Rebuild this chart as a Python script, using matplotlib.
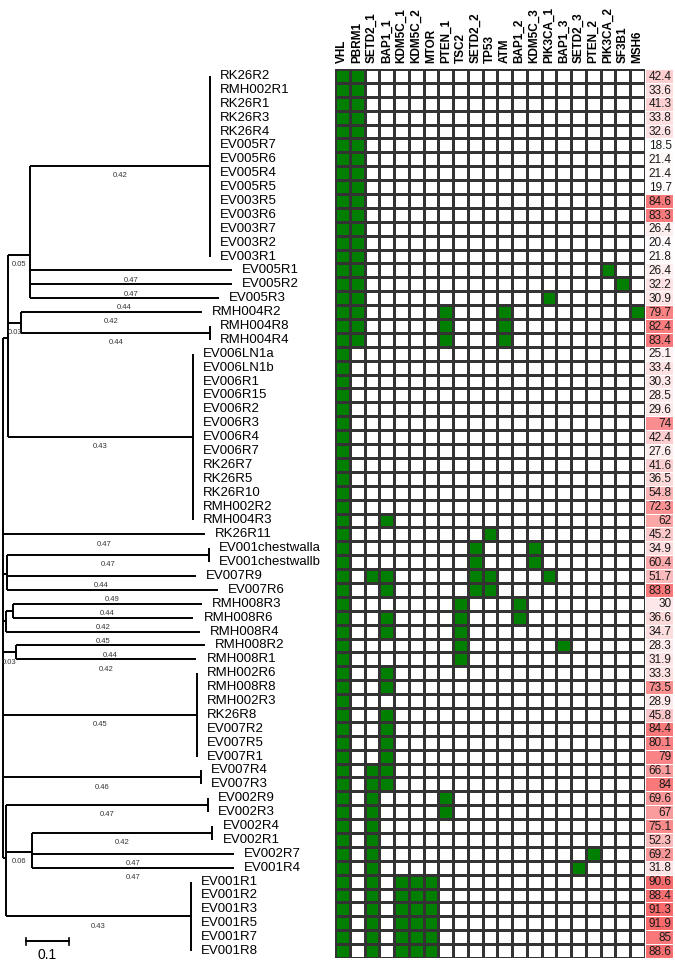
import numpy as np
import matplotlib.pyplot as plt
from matplotlib.colors import ListedColormap, LinearSegmentedColormap
from matplotlib import font_manager

plt.rcParams['font.family'] = ['Liberation Sans', 'DejaVu Sans']

# gene columns of the mutation grid
genes = ['VHL', 'PBRM1', 'SETD2_1', 'BAP1_1', 'KDM5C_1', 'KDM5C_2', 'MTOR',
         'PTEN_1', 'TSC2', 'SETD2_2', 'TP53', 'ATM', 'BAP1_2', 'KDM5C_3',
         'PIK3CA_1', 'BAP1_3', 'SETD2_3', 'PTEN_2', 'PIK3CA_2', 'SF3B1', 'MSH6']

# samples in tree order (top to bottom)
samples = ['RK26R2', 'RMH002R1', 'RK26R1', 'RK26R3', 'RK26R4', 'EV005R7', 'EV005R6',
           'EV005R4', 'EV005R5', 'EV003R5', 'EV003R6', 'EV003R7', 'EV003R2', 'EV003R1',
           'EV005R1', 'EV005R2', 'EV005R3', 'RMH004R2', 'RMH004R8', 'RMH004R4',
           'EV006LN1a', 'EV006LN1b', 'EV006R1', 'EV006R15', 'EV006R2', 'EV006R3',
           'EV006R4', 'EV006R7', 'RK26R7', 'RK26R5', 'RK26R10', 'RMH002R2', 'RMH004R3',
           'RK26R11', 'EV001chestwalla', 'EV001chestwallb', 'EV007R9', 'EV007R6',
           'RMH008R3', 'RMH008R6', 'RMH008R4', 'RMH008R2', 'RMH008R1', 'RMH002R6',
           'RMH008R8', 'RMH002R3', 'RK26R8', 'EV007R2', 'EV007R5', 'EV007R1',
           'EV007R4', 'EV007R3', 'EV002R9', 'EV002R3', 'EV002R4', 'EV002R1',
           'EV002R7', 'EV001R4', 'EV001R1', 'EV001R2', 'EV001R3', 'EV001R5',
           'EV001R7', 'EV001R8']

# value column (purity)
purity = [42.4, 33.6, 41.3, 33.8, 32.6, 18.5, 21.4, 21.4, 19.7, 84.6,
          83.3, 26.4, 20.4, 21.8, 26.4, 32.2, 30.9, 79.7, 82.4, 83.4,
          25.1, 33.4, 30.3, 28.5, 29.6, 74, 42.4, 27.6, 41.6, 36.5,
          54.8, 72.3, 62, 45.2, 34.9, 60.4, 51.7, 83.8, 30, 36.6,
          34.7, 28.3, 31.9, 33.3, 73.5, 28.9, 45.8, 84.4, 80.1, 79,
          66.1, 84, 69.6, 67, 75.1, 52.3, 69.2, 31.8, 90.6, 88.4,
          91.3, 91.9, 85, 88.6]

# extra mutated genes per sample (besides VHL which every sample has)
vp = ['PBRM1']
extra = {
    'EV005R1': vp + ['PIK3CA_2'], 'EV005R2': vp + ['SF3B1'], 'EV005R3': vp + ['PIK3CA_1'],
    'RMH004R2': vp + ['PTEN_1', 'ATM', 'MSH6'], 'RMH004R8': vp + ['PTEN_1', 'ATM'],
    'RMH004R4': vp + ['PTEN_1', 'ATM'],
    'RMH004R3': ['BAP1_1'], 'RK26R11': ['TP53'],
    'EV001chestwalla': ['SETD2_2', 'KDM5C_3'], 'EV001chestwallb': ['SETD2_2', 'KDM5C_3'],
    'EV007R9': ['SETD2_1', 'BAP1_1', 'SETD2_2', 'TP53', 'PIK3CA_1'],
    'EV007R6': ['BAP1_1', 'SETD2_2', 'TP53'],
    'RMH008R3': ['TSC2', 'BAP1_2'], 'RMH008R6': ['BAP1_1', 'TSC2', 'BAP1_2'],
    'RMH008R4': ['BAP1_1', 'TSC2'], 'RMH008R2': ['TSC2', 'BAP1_3'], 'RMH008R1': ['TSC2'],
    'RMH002R6': ['BAP1_1'], 'RMH008R8': ['BAP1_1'], 'RK26R8': ['BAP1_1'],
    'EV007R2': ['BAP1_1'], 'EV007R5': ['BAP1_1'], 'EV007R1': ['BAP1_1'],
    'EV007R4': ['SETD2_1', 'BAP1_1'], 'EV007R3': ['SETD2_1', 'BAP1_1'],
    'EV002R9': ['SETD2_1', 'PTEN_1'], 'EV002R3': ['SETD2_1', 'PTEN_1'],
    'EV002R4': ['SETD2_1'], 'EV002R1': ['SETD2_1'],
    'EV002R7': ['SETD2_1', 'PTEN_2'], 'EV001R4': ['SETD2_1', 'SETD2_3'],
}
for s in samples[:14]:
    extra[s] = vp
for s in ['EV001R1', 'EV001R2', 'EV001R3', 'EV001R5', 'EV001R7', 'EV001R8']:
    extra[s] = ['SETD2_1', 'KDM5C_1', 'KDM5C_2', 'MTOR']


def clade(bl, names):
    return ('', bl, [(n, 0, []) for n in names])


def leaf(name, bl):
    return (name, bl, [])


# tree: (name, branch length, children)
tree = ('', 0, [
    ('', 0.012, [
        ('', 0.05, [
            clade(0.42, samples[:14]),
            leaf('EV005R1', 0.47), leaf('EV005R2', 0.47), leaf('EV005R3', 0.44)]),
        ('', 0.03, [leaf('RMH004R2', 0.42), clade(0.44, ['RMH004R8', 'RMH004R4'])]),
        clade(0.43, samples[20:33])]),
    leaf('RK26R11', 0.47),
    ('', 0.009, [clade(0.47, ['EV001chestwalla', 'EV001chestwallb']),
                 leaf('EV007R9', 0.44), leaf('EV007R6', 0.49)]),
    ('', 0.007, [('', 0.016, [leaf('RMH008R3', 0.44), leaf('RMH008R6', 0.42)]),
                 leaf('RMH008R4', 0.45)]),
    ('', 0.03, [leaf('RMH008R2', 0.44), leaf('RMH008R1', 0.42)]),
    clade(0.45, samples[43:50]),
    clade(0.46, ['EV007R4', 'EV007R3']),
    ('', 0.007, [
        clade(0.47, ['EV002R9', 'EV002R3']),
        ('', 0.06, [clade(0.42, ['EV002R4', 'EV002R1']),
                    leaf('EV002R7', 0.47), leaf('EV001R4', 0.47)]),
        clade(0.43, samples[58:])]),
])

W, H = 675, 961
px_unit = 430.0          # pixels per unit branch length
top_px, bot_px = 69, 958
n = len(samples)
row_of = {s: i for i, s in enumerate(samples)}

# condensed bold face for the gene header if available
installed = {f.name for f in font_manager.fontManager.ttflist}
if 'Liberation Sans Narrow' in installed:
    head_font = dict(family='Liberation Sans Narrow', fontsize=10)
else:
    head_font = dict(family='Liberation Sans', fontsize=8.5)

fig = plt.figure(figsize=(W / 100, H / 100), dpi=100)
b = (H - bot_px) / H
h = (bot_px - top_px) / H

ax_tree = fig.add_axes([0, b, 335 / W, h])
ax_grid = fig.add_axes([335 / W, b, 310 / W, h])
ax_val = fig.add_axes([645 / W, b, 28 / W, h])

ax_tree.set_xlim(-3 / px_unit, 332 / px_unit)
for ax in (ax_tree, ax_grid, ax_val):
    ax.set_ylim(n, 0)
    ax.axis('off')

lab_off = 10 / px_unit


def draw(node, x0):
    name, bl, kids = node
    x = x0 + bl
    if kids:
        ys = [draw(k, x) for k in kids]
        y = np.mean(ys)
        ax_tree.plot([x, x], [min(ys), max(ys)], color='black', lw=1.4,
                     solid_capstyle='butt')
    else:
        y = row_of[name] + 0.5
        ax_tree.text(x + lab_off, y, name, fontsize=9.5, va='center', ha='left',
                     clip_on=False)
    if bl > 0:
        ax_tree.plot([x0, x], [y, y], color='black', lw=1.4, solid_capstyle='butt')
        if bl >= 0.02:
            ax_tree.text((x0 + x) / 2, y + 0.7, f'{bl:.2f}', fontsize=5.5,
                         color='#333333', ha='center', va='center')
    return y


draw(tree, 0.0)

# scale bar
sb_x = 23 / px_unit
ax_tree.plot([sb_x, sb_x + 0.1], [62.8, 62.8], color='black', lw=1.4)
ax_tree.plot([sb_x, sb_x], [62.55, 63.05], color='black', lw=1.2)
ax_tree.plot([sb_x + 0.1, sb_x + 0.1], [62.55, 63.05], color='black', lw=1.2)
ax_tree.text(sb_x + 0.05, 63.75, '0.1', fontsize=10, ha='center', va='center')

# mutation grid
mat = np.zeros((n, len(genes)))
for i, s in enumerate(samples):
    mat[i, 0] = 1
    for g in extra.get(s, []):
        mat[i, genes.index(g)] = 1
ax_grid.pcolormesh(np.arange(len(genes) + 1), np.arange(n + 1), mat,
                   cmap=ListedColormap(['white', '#007F00']), vmin=0, vmax=1,
                   edgecolors='#333333', linewidth=0.9)
ax_grid.set_xlim(0, len(genes))
for j, g in enumerate(genes):
    ax_grid.text(j + 0.5, -0.45, g, rotation=90, ha='center', va='bottom',
                 fontweight='bold', clip_on=False, **head_font)

# purity column
red = LinearSegmentedColormap.from_list('wr', ['#FFFFFF', '#F8696B'])
ax_val.pcolormesh([0, 1], np.arange(n + 1), np.array(purity).reshape(-1, 1),
                  cmap=red, vmin=min(purity), vmax=max(purity),
                  edgecolors='white', linewidth=0.5)
ax_val.set_xlim(0, 1)
for i, v in enumerate(purity):
    ax_val.text(0.95, i + 0.55, f'{v:g}', fontsize=8.5, ha='right', va='center',
                color='#1a1a1a')

fig.savefig('out.png', dpi=100)
